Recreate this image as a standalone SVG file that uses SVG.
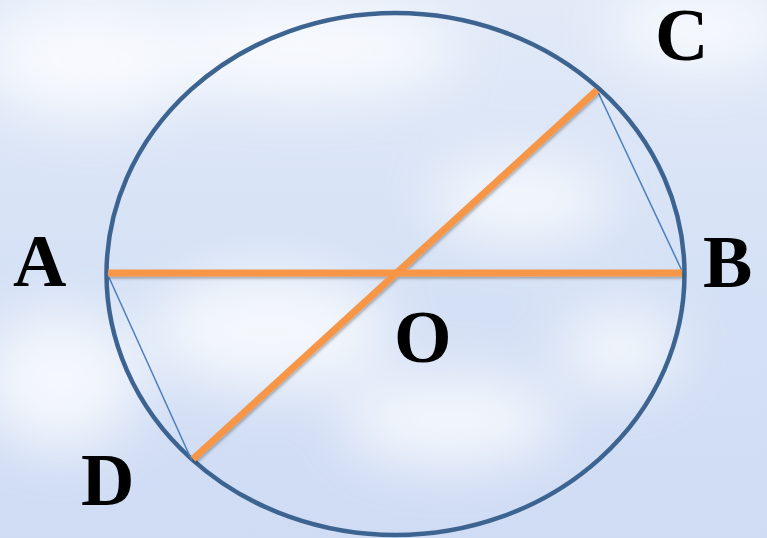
<svg xmlns="http://www.w3.org/2000/svg" width="767" height="538" viewBox="0 0 767 538">
<defs>
<linearGradient id="sky" x1="0" y1="0" x2="0" y2="1">
<stop offset="0" stop-color="#e2eaf8"/>
<stop offset="0.5" stop-color="#d5e1f5"/>
<stop offset="1" stop-color="#cfdcf4"/>
</linearGradient>
<filter id="blur" x="-50%" y="-50%" width="200%" height="200%"><feGaussianBlur stdDeviation="28"/></filter>
<filter id="shadow" x="-10%" y="-10%" width="120%" height="120%"><feDropShadow dx="1" dy="2" stdDeviation="1.5" flood-color="#000" flood-opacity="0.3"/></filter>
<style>
.dia{stroke:#f79646;stroke-width:7;fill:none}
.chord{stroke:#4a7ebb;stroke-width:1.5;fill:none}
</style>
</defs>
<g id="background">
<rect width="767" height="538" fill="url(#sky)"/>
<g filter="url(#blur)" fill="#ffffff" opacity="0.75">
<ellipse cx="90" cy="60" rx="110" ry="60"/>
<ellipse cx="300" cy="50" rx="160" ry="50"/>
<ellipse cx="700" cy="30" rx="90" ry="40"/>
<ellipse cx="520" cy="200" rx="90" ry="40"/>
<ellipse cx="270" cy="330" rx="120" ry="60"/>
<ellipse cx="450" cy="420" rx="110" ry="45"/>
<ellipse cx="60" cy="380" rx="80" ry="70"/>
<ellipse cx="620" cy="350" rx="60" ry="40"/>
</g>
</g>
<g id="circle">
<ellipse cx="395.5" cy="274" rx="289" ry="261" fill="none" stroke="#3d6491" stroke-width="4.5"/>
</g>
<g id="connectors">
<line class="chord" x1="597" y1="90" x2="683" y2="273"/>
<line class="chord" x1="107" y1="273" x2="192" y2="461"/>
<g filter="url(#shadow)">
<line class="dia" x1="108" y1="273" x2="682" y2="273"/>
<line class="dia" x1="597" y1="90" x2="193" y2="459"/>
</g>
</g>
<g font-family="Liberation Serif, Times New Roman, serif" font-weight="700" font-size="74" fill="#000">
<g id="A"><text x="13" y="286">A</text></g>
<g id="B"><text x="703" y="287">B</text></g>
<g id="C"><text x="655" y="60">C</text></g>
<g id="O"><text x="394" y="362">O</text></g>
<g id="D"><text x="81" y="505">D</text></g>
</g>
</svg>
